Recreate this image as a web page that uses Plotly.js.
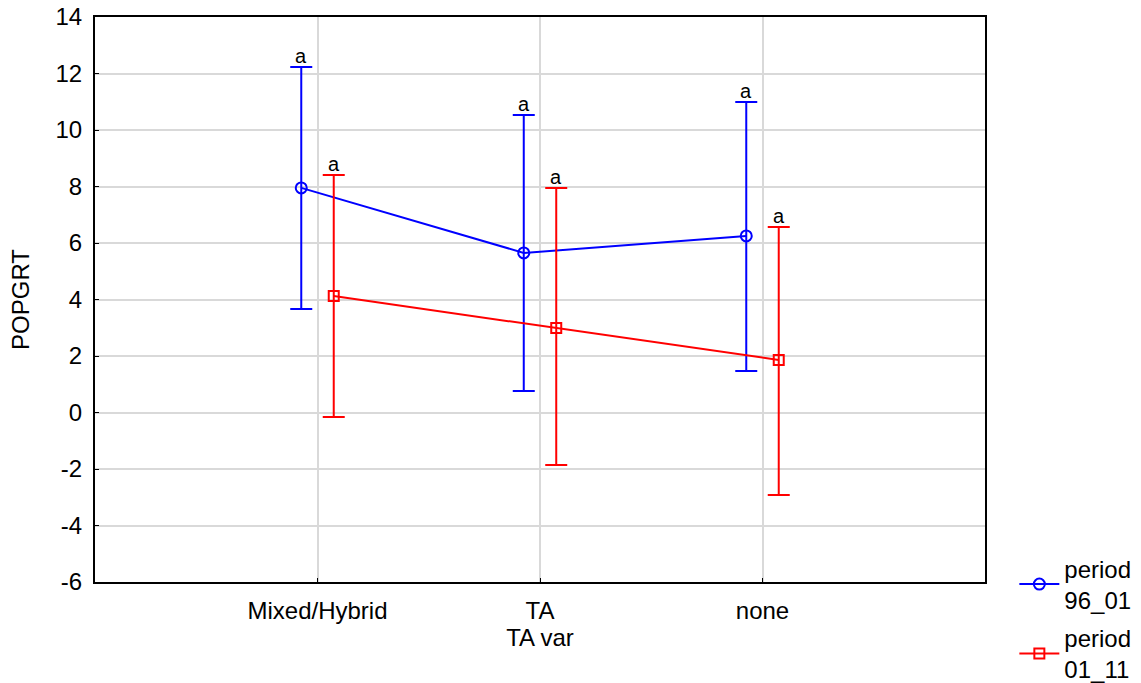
<!DOCTYPE html>
<html>
<head>
<meta charset="utf-8">
<script src="https://cdn.plot.ly/plotly-3.0.1.min.js"></script>
<style>html,body{margin:0;padding:0;background:#fff;}#chart{width:1141px;height:683px;}</style>
</head>
<body>
<div id="chart"></div>
<script>
var categories = ["Mixed/Hybrid", "TA", "none"];
var seriesNames = ["period<br>96_01", "period<br>01_11"];
var blueMean = [7.95, 5.65, 6.25];
var blueUpper = [12.23, 10.53, 10.99];
var blueLower = [3.66, 0.76, 1.47];
var redMean = [4.12, 2.99, 1.86];
var redUpper = [8.41, 7.95, 6.57];
var redLower = [-0.16, -1.86, -2.92];
var groupLabels = ["a", "a", "a"];
var yTicks = [-6, -4, -2, 0, 2, 4, 6, 8, 10, 12, 14];
var yTickText = ["-6", "-4", "-2", "0", "2", "4", "6", "8", "10", "12", "14"];

var offset = 0.073;
var idx = categories.map(function(_, i){ return i; });
function pos(o){ return idx.map(function(i){ return i + o; }); }
function diff(a, b){ return a.map(function(v, i){ return v - b[i]; }); }

var font = "Liberation Sans, Arial, sans-serif";
var fs = 24;

var traces = [
  {
    x: pos(-offset), y: blueMean, name: seriesNames[0], legendgroup: "g1", type: "scatter", mode: "lines+markers",
    line: {color: "#0000ff", width: 2},
    marker: {symbol: "circle-open", size: 11, color: "#0000ff", line: {width: 2}},
    error_y: {type: "data", symmetric: false, array: diff(blueUpper, blueMean), arrayminus: diff(blueMean, blueLower), color: "#0000ff", thickness: 2, width: 11}
  },
  {
    x: pos(offset), y: redMean, name: seriesNames[1], legendgroup: "g2", type: "scatter", mode: "lines+markers",
    line: {color: "#ff0000", width: 2},
    marker: {symbol: "square-open", size: 10, color: "#ff0000", line: {width: 2}},
    error_y: {type: "data", symmetric: false, array: diff(redUpper, redMean), arrayminus: diff(redMean, redLower), color: "#ff0000", thickness: 2, width: 11}
  }
];

var annotations = [];
idx.forEach(function(i){
  annotations.push({x: i - offset, y: blueUpper[i], text: groupLabels[i], showarrow: false, yanchor: "bottom", yshift: -2, font: {family: font, size: 20, color: "#000"}});
  annotations.push({x: i + offset, y: redUpper[i], text: groupLabels[i], showarrow: false, yanchor: "bottom", yshift: -2, font: {family: font, size: 20, color: "#000"}});
});

var layout = {
  width: 1141, height: 683,
  margin: {l: 95, r: 156, t: 17, b: 101},
  paper_bgcolor: "#fff", plot_bgcolor: "#fff",
  font: {family: font, size: fs, color: "#000"},
  showlegend: true,
  legend: {xref: "container", yref: "container", x: 0.889, xanchor: "left", y: 0.2, yanchor: "top", itemwidth: 40, traceorder: "grouped", tracegroupgap: 4, font: {family: font, size: fs, color: "#000"}, bgcolor: "rgba(0,0,0,0)"},
  xaxis: {
    range: [-1, 3],
    tickvals: idx, ticktext: categories,
    showgrid: true, gridcolor: "#d9d9d9", gridwidth: 2,
    showline: true, linecolor: "#000", linewidth: 2, mirror: true,
    ticks: "inside", ticklen: 4, tickcolor: "#000",
    zeroline: false,
    tickfont: {family: font, size: fs},
    ticklabelstandoff: 6,
    title: {text: "TA var", font: {family: font, size: fs}, standoff: 0}
  },
  yaxis: {
    range: [-6, 14],
    tickvals: yTicks, ticktext: yTickText,
    showgrid: true, gridcolor: "#d9d9d9", gridwidth: 2,
    showline: true, linecolor: "#000", linewidth: 2, mirror: true,
    ticks: "inside", ticklen: 4, tickcolor: "#000",
    zeroline: false,
    tickfont: {family: font, size: fs},
    ticklabelstandoff: 6,
    title: {text: "POPGRT", font: {family: font, size: fs}, standoff: 19}
  },
  annotations: annotations
};

Plotly.newPlot("chart", traces, layout, {displayModeBar: false, staticPlot: true});
</script>
</body>
</html>
